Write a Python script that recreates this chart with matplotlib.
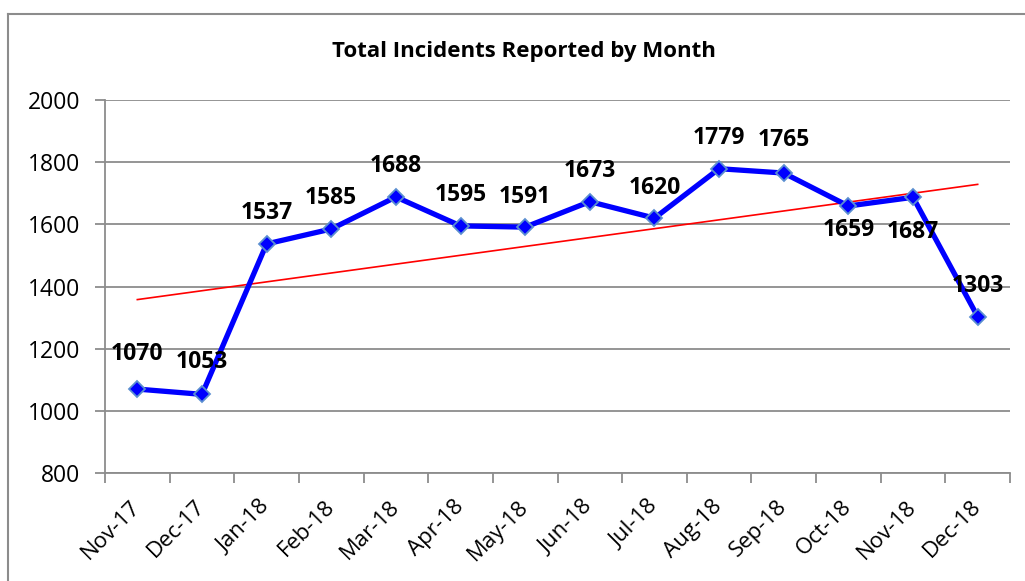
import numpy as np
import matplotlib
matplotlib.use("Agg")
from matplotlib import pyplot as plt
from matplotlib.lines import Line2D

plt.rcParams['font.family'] = ['Open Sans', 'DejaVu Sans']

months = ["Nov-17", "Dec-17", "Jan-18", "Feb-18", "Mar-18", "Apr-18", "May-18",
          "Jun-18", "Jul-18", "Aug-18", "Sep-18", "Oct-18", "Nov-18", "Dec-18"]
incidents = [1070, 1053, 1537, 1585, 1688, 1595, 1591, 1673, 1620, 1779, 1765, 1659, 1687, 1303]
# label offset (points) above (+) / below (-) the marker
label_offsets = [25, 23, 22, 22, 22, 22, 22, 22, 22, 22, 24, -17, -25, 22]

W, H = 1025, 581
fig = plt.figure(figsize=(W / 100, H / 100), dpi=100)
ax = fig.add_axes([105 / W, 1 - 473 / H, 905 / W, 373 / H])

x = np.arange(len(months))

# linear trend line
slope, intercept = np.polyfit(x, incidents, 1)
ax.plot(x, slope * x + intercept, color='#FF0000', lw=1.2, zorder=3)

ax.plot(x, incidents, color='#0000FF', lw=3.8, marker='D', markersize=8.5,
        markerfacecolor='#0000FF', markeredgecolor='#5B8FD0', markeredgewidth=1.3, zorder=4)

for xi, v, off in zip(x, incidents, label_offsets):
    ax.annotate(str(v), (xi, v), xytext=(0, off), textcoords='offset points',
                ha='center', va='center', fontsize=16.5, fontweight='bold', zorder=5)

ax.set_xlim(-0.5, len(months) - 0.5)
ax.set_ylim(800, 2000)
ax.set_yticks(np.arange(800, 2001, 200))
ax.yaxis.grid(True, color='#8C8C8C', lw=1.3)
ax.set_axisbelow(True)

ax.set_xticks(np.arange(-0.5, len(months), 1.0))
ax.set_xticklabels([])
ax.set_xticks(x, minor=True)
ax.set_xticklabels(months, minor=True, rotation=45, ha='right', va='center',
                   rotation_mode='anchor', fontsize=16)
ax.tick_params(axis='x', which='minor', length=0, pad=22)
ax.tick_params(axis='x', which='major', length=7, width=1.3, color='#8C8C8C')
ax.tick_params(axis='y', length=7, width=1.3, color='#8C8C8C', labelsize=16.5, pad=11)

for s in ['top', 'right']:
    ax.spines[s].set_visible(False)
for s in ['left', 'bottom']:
    ax.spines[s].set_color('#8C8C8C')
    ax.spines[s].set_linewidth(1.3)

fig.text(524 / W, 1 - 51 / H, "Total Incidents Reported by Month", ha='center', va='center',
         fontsize=16, fontweight='bold')

# chart border
fig.add_artist(Line2D([8 / W, 1], [1 - 14 / H, 1 - 14 / H], color='#8C8C8C', lw=1.5,
                      transform=fig.transFigure))
fig.add_artist(Line2D([8 / W, 8 / W], [1 - 14 / H, 0], color='#8C8C8C', lw=1.5,
                      transform=fig.transFigure))

fig.savefig("out.png", dpi=100)
